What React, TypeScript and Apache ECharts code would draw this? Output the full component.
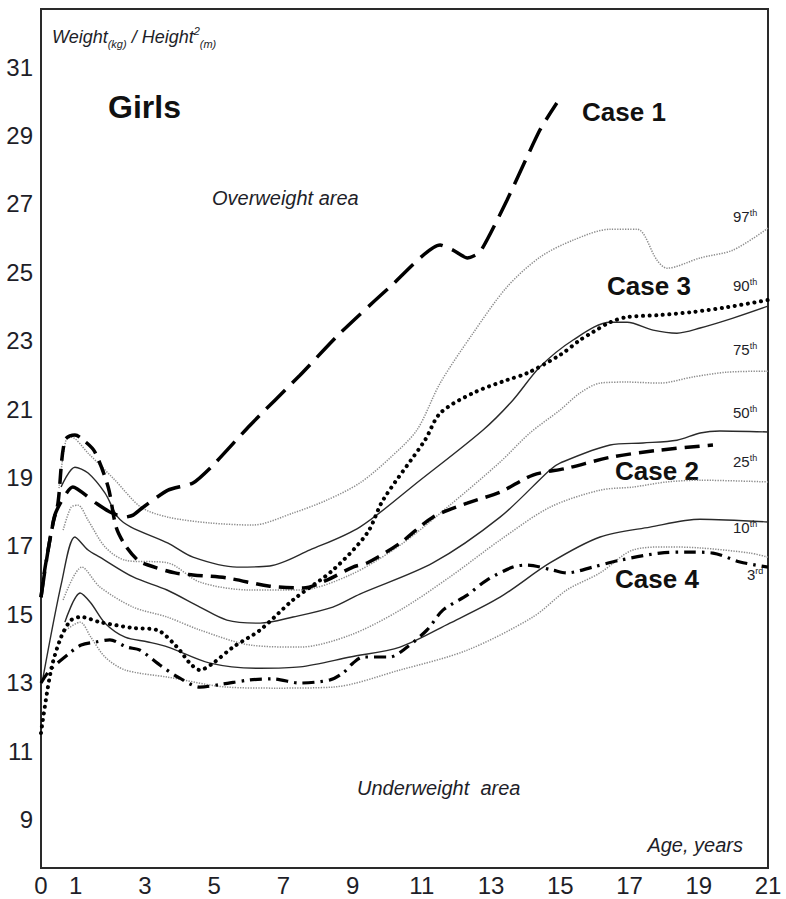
import React, { useEffect, useRef } from "react";
import * as echarts from "echarts";

// Tick labels
const xTicks = [0, 1, 3, 5, 7, 9, 11, 13, 15, 17, 19, 21];
const yTicks = [9, 11, 13, 15, 17, 19, 21, 23, 25, 27, 29, 31];

// Reference percentile curves [age (years), BMI]
const p97: [number, number][] = [
  [0.52, 18.69], [0.72, 20.09], [0.87, 20.18], [1.36, 19.71], [2.14, 18.92], [2.89, 18.13],
  [3.67, 17.84], [4.88, 17.67], [6.12, 17.61], [7.28, 17.96], [8.26, 18.34], [9.21, 18.84],
  [10.08, 19.57], [10.86, 20.39], [11.53, 21.76], [12.48, 23.22], [13.46, 24.57], [14.41, 25.44],
  [15.37, 25.94], [16.44, 26.26], [17.22, 26.26], [17.79, 25.36], [18.08, 25.12], [19.04, 25.42],
  [19.99, 25.65], [21.0, 26.29],
];
const p90: [number, number][] = [
  [0.58, 18.72], [0.98, 19.3], [1.36, 19.13], [1.85, 18.54], [2.22, 17.84], [2.6, 17.55],
  [3.67, 17.08], [4.39, 16.67], [5.66, 16.38], [6.61, 16.41], [7.77, 16.88], [9.21, 17.55],
  [10.95, 18.92], [12.77, 20.39], [13.63, 21.26], [14.41, 22.23], [15.37, 23.02], [16.44, 23.54],
  [16.93, 23.54], [17.68, 23.31], [18.37, 23.22], [19.04, 23.37], [19.99, 23.66], [21.0, 24.01],
];
const p75: [number, number][] = [
  [0.64, 17.46], [0.87, 18.13], [1.07, 18.19], [1.36, 17.75], [1.85, 16.97], [2.43, 16.58],
  [3.67, 16.5], [4.59, 15.94], [6.04, 15.71], [7.48, 15.71], [8.93, 16.15], [10.37, 17.02],
  [11.81, 18.19], [13.26, 19.45], [14.12, 20.3], [14.99, 20.97], [15.57, 21.47], [16.15, 21.76],
  [16.93, 21.79], [17.88, 21.76], [18.83, 21.94], [19.82, 22.08], [21.0, 22.11],
];
const p50: [number, number][] = [
  [0.05, 13.1], [0.61, 16.0], [0.98, 17.26], [1.36, 16.88], [1.7, 16.67], [2.66, 16.09],
  [3.64, 15.71], [4.59, 15.21], [5.37, 14.83], [6.33, 14.74], [7.28, 14.92], [8.43, 15.21],
  [9.21, 15.59], [11.32, 16.5], [13.26, 17.84], [14.7, 19.22], [14.99, 19.42], [16.44, 19.95],
  [17.39, 20.01], [18.37, 20.09], [19.04, 20.3], [19.61, 20.36], [21.0, 20.33],
];
const p25: [number, number][] = [
  [0.64, 15.42], [1.18, 16.38], [1.7, 15.8], [2.66, 15.21], [3.64, 14.92], [4.59, 14.54],
  [6.04, 14.1], [7.48, 14.04], [8.93, 14.39], [10.37, 15.12], [11.81, 16.09], [13.26, 17.17],
  [14.7, 18.13], [16.15, 18.63], [17.1, 18.72], [18.08, 18.87], [19.04, 18.92], [21.0, 18.87],
];
const p10: [number, number][] = [
  [0.69, 14.77], [1.13, 15.62], [1.44, 15.33], [1.85, 14.74], [2.43, 14.33], [3.09, 14.19],
  [3.67, 14.04], [4.88, 13.57], [6.33, 13.42], [7.48, 13.46], [8.93, 13.75], [10.37, 14.04],
  [11.81, 14.74], [13.26, 15.5], [14.7, 16.5], [16.15, 17.26], [17.59, 17.55], [19.04, 17.78],
  [21.0, 17.7],
];
const p3: [number, number][] = [
  [0.72, 14.54], [1.13, 14.77], [1.44, 14.33], [1.85, 13.75], [2.43, 13.37], [3.67, 13.16],
  [5.37, 12.87], [6.82, 12.84], [8.43, 12.87], [10.37, 13.37], [12.31, 13.95], [14.21, 14.92],
  [15.19, 15.71], [16.15, 16.21], [17.1, 16.88], [18.08, 16.97], [19.04, 16.94], [20.48, 16.79],
  [21.0, 16.67],
];

// Patient cases [age (years), BMI]
const case1: [number, number][] = [
  [0, 15.5], [0.4, 17.9], [0.92, 18.72], [1.59, 18.25], [1.99, 17.99], [2.43, 17.84],
  [2.66, 17.9], [2.95, 18.13], [3.67, 18.63], [4.39, 18.84], [4.97, 19.36], [6.04, 20.53],
  [7.48, 21.99], [8.64, 23.22], [10.08, 24.57], [11.53, 25.8], [11.9, 25.65], [12.31, 25.42],
  [12.68, 25.59], [13.46, 27.11], [14.41, 29.16], [14.9, 29.95],
];
const case2: [number, number][] = [
  [0, 15.5], [0.12, 16.38], [0.35, 17.67], [0.49, 18.25], [0.69, 20.09], [0.98, 20.24],
  [1.3, 20.03], [1.56, 19.74], [1.94, 18.72], [2.17, 17.55], [2.43, 17.02], [2.8, 16.58],
  [3.09, 16.44], [3.87, 16.21], [4.39, 16.15], [5.37, 16.06], [6.61, 15.82], [7.57, 15.77],
  [8.26, 16.0], [9.01, 16.38], [9.42, 16.5], [10.37, 17.08], [11.32, 17.84], [12.31, 18.25],
  [13.26, 18.57], [14.21, 19.07], [15.19, 19.27], [16.44, 19.59], [17.88, 19.8], [19.41, 19.95],
];
const case3: [number, number][] = [
  [0, 11.53], [0.29, 13.37], [0.58, 14.33], [0.87, 14.83], [1.16, 14.92], [1.7, 14.77],
  [2.66, 14.6], [3.35, 14.54], [3.93, 14.04], [4.3, 13.57], [4.59, 13.37], [4.97, 13.57],
  [5.55, 14.04], [6.33, 14.54], [7.28, 15.42], [8.43, 16.29], [9.42, 17.37], [9.88, 18.34],
  [11.09, 20.09], [11.53, 20.88], [12.48, 21.47], [13.46, 21.85], [14.04, 22.05], [14.99, 22.58],
  [15.57, 23.02], [15.94, 23.25], [16.44, 23.54], [16.93, 23.69], [17.88, 23.75], [18.83, 23.84],
  [19.82, 23.98], [21.0, 24.19],
];
const case4: [number, number][] = [
  [0, 12.99], [0.26, 13.37], [0.87, 13.9], [1.16, 14.1], [1.59, 14.19], [1.99, 14.25],
  [2.48, 14.04], [2.86, 13.95], [3.44, 13.51], [4.01, 13.13], [4.59, 12.87], [5.26, 12.96],
  [6.04, 13.08], [6.7, 13.11], [7.48, 12.99], [8.35, 13.08], [8.72, 13.28], [9.01, 13.57],
  [9.3, 13.75], [10.08, 13.75], [10.46, 13.95], [11.15, 14.54], [11.61, 15.12], [12.31, 15.56],
  [12.88, 16.0], [13.63, 16.38], [14.04, 16.44], [14.79, 16.29], [15.19, 16.21], [15.94, 16.38],
  [16.72, 16.58], [17.88, 16.79], [18.66, 16.82], [19.41, 16.79], [20.19, 16.53], [21.0, 16.38],
];

const NARROW = "'Liberation Sans Narrow', 'Arial Narrow', 'Liberation Sans', Arial, sans-serif";
const SANS = "'Liberation Sans', Arial, sans-serif";
const TXT = "#1e1e28";

export default function App() {
  const ref = useRef<HTMLDivElement>(null);
  useEffect(() => {
    if (!ref.current) return;
    const chart = echarts.init(ref.current, null, { renderer: "svg" });

    const solid = (name: string, data: [number, number][]) => ({
      name, type: "line", data, showSymbol: false, smooth: 0.3, z: 2,
      lineStyle: { color: "#2a2a2a", width: 1.4, type: "solid" },
    });
    const dotted = (name: string, data: [number, number][]) => ({
      name, type: "line", data, showSymbol: false, smooth: 0.3, z: 2,
      lineStyle: { color: "#8c8c8c", width: 1.5, type: [1.3, 1.3] },
    });

    const pct = (txt: string, sup: string, x: number, y: number) => ({
      type: "text", x, y,
      style: {
        text: `{n|${txt}}{s|${sup}}`,
        verticalAlign: "middle",
        rich: {
          n: { fontFamily: NARROW, fontSize: 15, fill: TXT, lineHeight: 16, verticalAlign: "bottom" },
          s: { fontFamily: NARROW, fontSize: 9, fill: TXT, lineHeight: 16, verticalAlign: "top" },
        },
      },
    });
    const caseLabel = (txt: string, x: number, y: number) => ({
      type: "text", x, y,
      style: { text: txt, font: `bold 26px ${NARROW}`, fill: "#111", verticalAlign: "middle" },
    });

    chart.setOption({
      animation: false,
      grid: { left: 41, right: 18, top: 9, bottom: 31, show: true, borderColor: "#2a2a2a", borderWidth: 2, backgroundColor: "transparent" },
      xAxis: {
        type: "value", min: 0, max: 21,
        axisLine: { show: false }, axisTick: { show: false }, splitLine: { show: false },
        axisLabel: { customValues: xTicks, fontFamily: NARROW, fontSize: 24, color: TXT, margin: 5 },
      },
      yAxis: {
        type: "value", min: 7.58, max: 32.7,
        axisLine: { show: false }, axisTick: { show: false }, splitLine: { show: false },
        axisLabel: { customValues: yTicks, fontFamily: NARROW, fontSize: 24, color: TXT, margin: 8 },
      },
      series: [
        dotted("97th", p97),
        solid("90th", p90),
        dotted("75th", p75),
        solid("50th", p50),
        dotted("25th", p25),
        solid("10th", p10),
        dotted("3rd", p3),
        {
          name: "Case 1", type: "line", data: case1, showSymbol: false, smooth: 0.2, z: 4,
          lineStyle: { color: "#000", width: 3.5, type: [26, 10] },
        },
        {
          name: "Case 2", type: "line", data: case2, showSymbol: false, smooth: 0.3, z: 4,
          lineStyle: { color: "#000", width: 3.5, type: [15, 8] },
        },
        {
          name: "Case 3", type: "line", data: case3, showSymbol: false, smooth: 0.3, z: 4,
          lineStyle: { color: "#000", width: 4, type: [0.1, 6.5], cap: "round" },
        },
        {
          name: "Case 4", type: "line", data: case4, showSymbol: false, smooth: 0.3, z: 4,
          lineStyle: { color: "#000", width: 3.2, type: [12, 6, 2.5, 6] },
        },
      ],
      graphic: [
        {
          type: "text", x: 52, y: 37,
          style: {
            text: "{a|Weight}{s|(kg)}{a| / Height}{p|2}{s|(m)}",
            verticalAlign: "middle",
            rich: {
              a: { fontFamily: SANS, fontStyle: "italic", fontSize: 18, fill: TXT, lineHeight: 24, verticalAlign: "middle" },
              s: { fontFamily: SANS, fontStyle: "italic", fontSize: 11, fill: TXT, lineHeight: 24, verticalAlign: "bottom" },
              p: { fontFamily: SANS, fontStyle: "italic", fontSize: 11, fill: TXT, lineHeight: 24, verticalAlign: "top" },
            },
          },
        },
        { type: "text", x: 108, y: 107, style: { text: "Girls", font: `bold 32px ${SANS}`, fill: "#111", verticalAlign: "middle" } },
        { type: "text", x: 212, y: 198, style: { text: "Overweight area", font: `italic 20px ${SANS}`, fill: TXT, verticalAlign: "middle" } },
        { type: "text", x: 357, y: 788, style: { text: "Underweight  area", font: `italic 20px ${SANS}`, fill: TXT, verticalAlign: "middle" } },
        { type: "text", x: 743, y: 845, style: { text: "Age, years", font: `italic 20px ${SANS}`, fill: TXT, align: "right", verticalAlign: "middle" } },
        caseLabel("Case 1", 582, 112),
        caseLabel("Case 3", 607, 286),
        caseLabel("Case 2", 615, 471),
        caseLabel("Case 4", 615, 579),
        pct("97", "th", 733, 216),
        pct("90", "th", 733, 285),
        pct("75", "th", 733, 349),
        pct("50", "th", 733, 412),
        pct("25", "th", 733, 461),
        pct("10", "th", 733, 527),
        pct("3", "rd", 747, 574),
      ],
    });
    return () => chart.dispose();
  }, []);
  return <div ref={ref} style={{ width: 786, height: 899, position: "absolute", left: 0, top: 0 }} />;
}
